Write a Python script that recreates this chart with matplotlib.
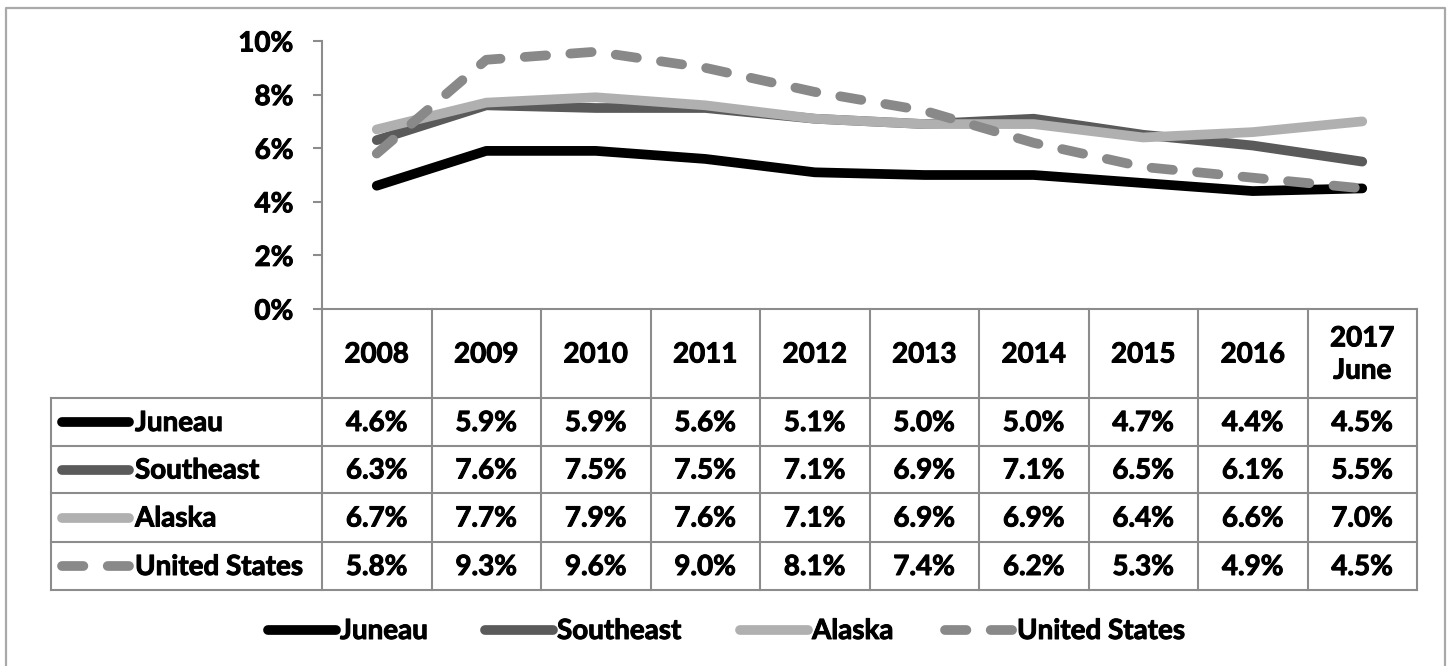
import matplotlib
matplotlib.use("Agg")
import matplotlib.pyplot as plt
from matplotlib import transforms
from matplotlib.lines import Line2D
import matplotlib.patheffects as pe

# ---------------- data ----------------
years = ["2008", "2009", "2010", "2011", "2012", "2013", "2014", "2015", "2016", "2017\nJune"]
series_names = ["Juneau", "Southeast", "Alaska", "United States"]
juneau = [4.6, 5.9, 5.9, 5.6, 5.1, 5.0, 5.0, 4.7, 4.4, 4.5]
southeast = [6.3, 7.6, 7.5, 7.5, 7.1, 6.9, 7.1, 6.5, 6.1, 5.5]
alaska = [6.7, 7.7, 7.9, 7.6, 7.1, 6.9, 6.9, 6.4, 6.6, 7.0]
united_states = [5.8, 9.3, 9.6, 9.0, 8.1, 7.4, 6.2, 5.3, 4.9, 4.5]
yticks = [0, 2, 4, 6, 8, 10]
ytick_labels = ["0%", "2%", "4%", "6%", "8%", "10%"]

# ---------------- styles ----------------
W, H = 1449, 666
DPI = 100
FONT = ["Lato", "DejaVu Sans"]
WEIGHT = "bold"
FS = 20
TXT_FX = [pe.withStroke(linewidth=0.7, foreground="black")]
GRID = "#8c8c8c"
LW = 7
DASH = (2.2, 2.5)
styles = [
    dict(color="#000000"),
    dict(color="#5a5a5a"),
    dict(color="#b0b0b0"),
    dict(color="#898989", dashes=DASH),
]
all_values = [juneau, southeast, alaska, united_states]

plt.rcParams["font.family"] = FONT

fig = plt.figure(figsize=(W / DPI, H / DPI), dpi=DPI)
fig.patch.set_facecolor("white")

ov = fig.add_axes([0, 0, 1, 1])
ov.set_xlim(0, W)
ov.set_ylim(H, 0)
ov.axis("off")
ov.set_zorder(0)

ax_l, ax_r, ax_t, ax_b = 322, 1417, 41, 309
ax = fig.add_axes([ax_l / W, 1 - ax_b / H, (ax_r - ax_l) / W, (ax_b - ax_t) / H])
ax.set_zorder(1)
ax.patch.set_alpha(0)
n = len(years)
x = list(range(n))
ax.set_xlim(-0.5, n - 0.5)
ax.set_ylim(0, 10)

for vals, st in zip(all_values, styles):
    kw = dict(linewidth=LW, solid_capstyle="round", dash_capstyle="round",
              solid_joinstyle="round", clip_on=False)
    kw.update(st)
    ax.plot(x, vals, **kw)

for s in ["top", "right"]:
    ax.spines[s].set_visible(False)
for s in ["left", "bottom"]:
    ax.spines[s].set_color(GRID)
    ax.spines[s].set_linewidth(1.5)
ax.set_xticks([])
ax.set_yticks(yticks)
ax.set_yticklabels(ytick_labels, fontsize=FS, fontweight=WEIGHT)
for t in ax.get_yticklabels():
    t.set_path_effects(TXT_FX)
ax.tick_params(axis="y", direction="out", length=6.5, width=1.5, color=GRID, pad=14)

bt = transforms.blended_transform_factory(ax.transData, ov.transData)

# outer border
ov.plot([6, 6, 1445, 1445], [H + 5, 8, 8, H + 5], color="#a9a9a9", lw=1.6, clip_on=False)

# table
hdr_top, hdr_bot = 309, 398
row_edges = [398, 446, 493, 542, 590]
tbl_left = 51
gkw = dict(color=GRID, lw=1.5, solid_capstyle="projecting")
for i in range(n + 1):
    ov.plot([i - 0.5, i - 0.5], [hdr_top, row_edges[-1]], transform=bt, **gkw)
ov.plot([tbl_left, tbl_left], [row_edges[0], row_edges[-1]], **gkw)
for yy in row_edges:
    ov.plot([tbl_left, ax_r], [yy, yy], **gkw)

tkw = dict(fontsize=FS, fontweight=WEIGHT, path_effects=TXT_FX)
for i, yr in enumerate(years):
    ov.text(i, (hdr_top + hdr_bot) / 2 + 1, yr, transform=bt, ha="center", va="center",
            linespacing=1.3, **tkw)

for r, (name, vals, st) in enumerate(zip(series_names, all_values, styles)):
    yc = (row_edges[r] + row_edges[r + 1]) / 2
    kw = dict(linewidth=LW, solid_capstyle="round", dash_capstyle="round")
    kw.update(st)
    ov.add_line(Line2D([61.5, 128.5], [yc, yc], **kw))
    ov.text(135, yc + 1, name, ha="left", va="center", **tkw)
    for i, v in enumerate(vals):
        ov.text(i, yc + 1, f"{v:.1f}%", transform=bt, ha="center", va="center", **tkw)

# bottom legend
leg_y = 630
leg_x = [263, 480, 735, 940]
for name, st, lx in zip(series_names, styles, leg_x):
    kw = dict(linewidth=LW, solid_capstyle="round", dash_capstyle="round")
    kw.update(st)
    ov.add_line(Line2D([lx + 4.5, lx + 72.5], [leg_y, leg_y], **kw))
    ov.text(lx + 77, leg_y + 1, name, ha="left", va="center", **tkw)

fig.savefig("out.png", dpi=DPI, facecolor="white")
